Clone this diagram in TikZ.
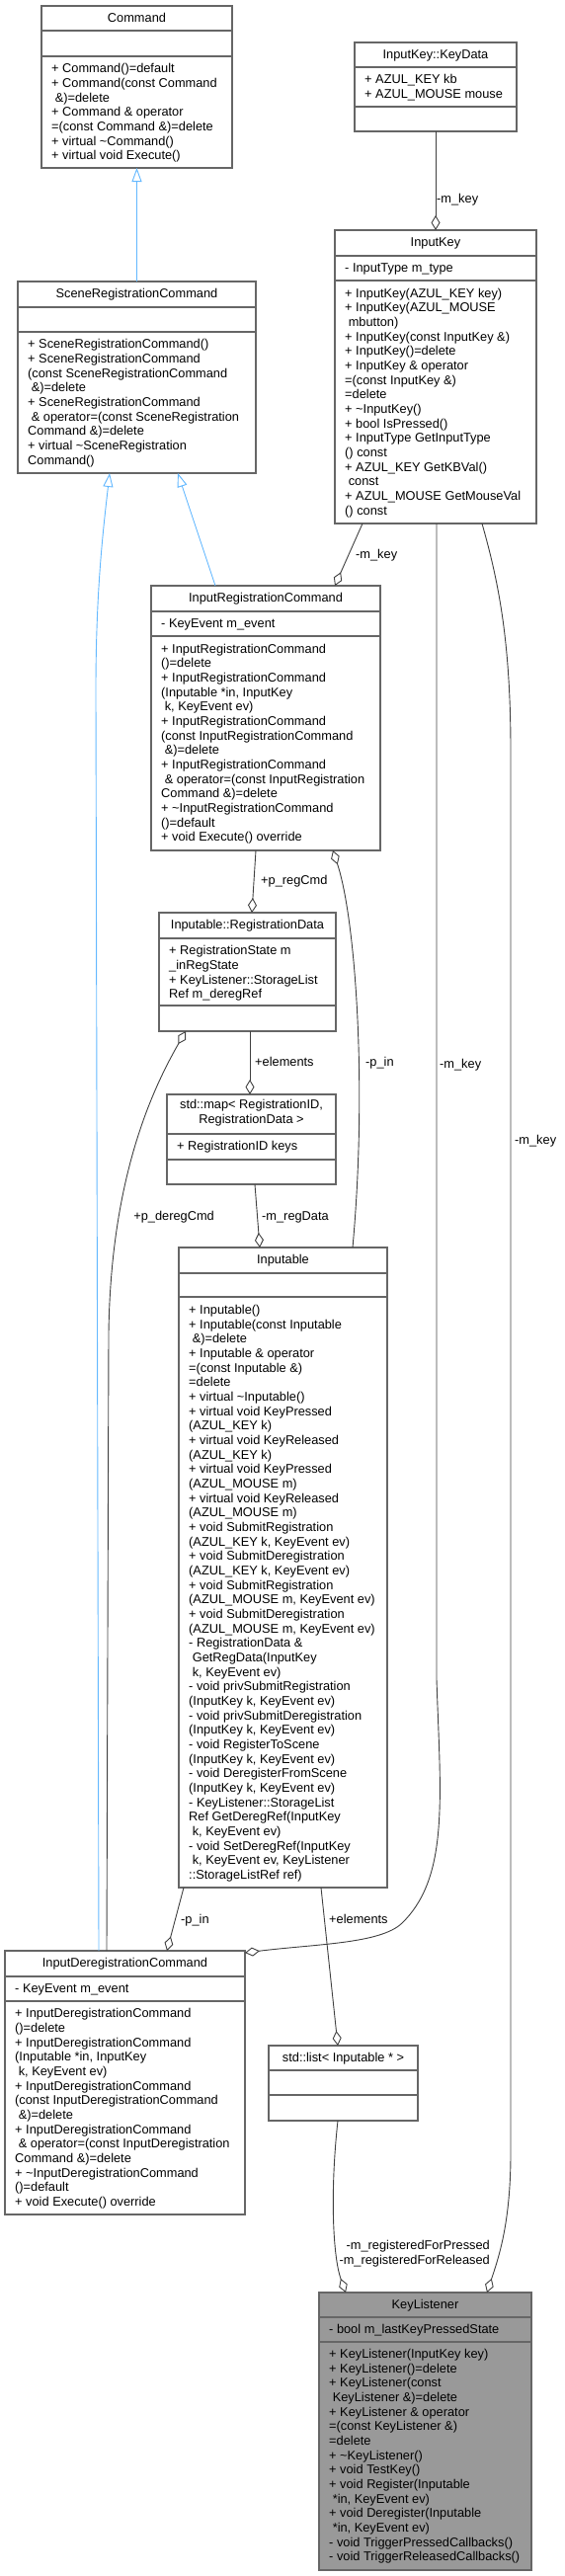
\documentclass[tikz,border=0pt]{standalone}
\usepackage{fontspec}
\setmainfont{Liberation Sans}
\usepackage{xcolor}
\usepackage{tikz}
\usetikzlibrary{arrows.meta}

\definecolor{boxline}{HTML}{666666}
\definecolor{edgegray}{HTML}{404040}
\definecolor{inhblue}{HTML}{63B8FF}
\definecolor{curfill}{HTML}{999999}

\newcommand{\lsp}{\hspace*{3.6pt}}

\begin{document}
\begin{tikzpicture}[x=1pt, y=-1pt,
        font=\fontsize{12.8}{14.67}\selectfont,
        classbox/.style={draw=boxline, line width=1.1pt, fill=white, inner sep=0pt, outer sep=0pt, anchor=north west},
        ctitle/.style={anchor=base, inner sep=0pt},
        ctext/.style={anchor=north west, inner sep=0pt, align=left},
        elabel/.style={anchor=base west, inner sep=0pt},
        divider/.style={draw=boxline, line width=1.1pt},
        agg/.style={draw=edgegray, line width=0.9pt, -{Diamond[open, fill=white, length=15pt, width=9pt]}},
        inherit/.style={draw=inhblue, line width=0.9pt, -{Triangle[open, fill=white, length=14pt, width=10pt]}}]
        \useasboundingbox (0,0) rectangle (571,2608);

        % Command
        \node[classbox, minimum width=193pt, minimum height=164pt] (cmd) at (42,6) {};
        \draw[divider] (cmd.west |- 0,31) -- (cmd.east |- 0,31);
        \draw[divider] (cmd.west |- 0,57) -- (cmd.east |- 0,57);
        \node[ctitle] (cmd-t) at ([yshift=-16.5pt]cmd.north) {Command};
        \node[ctext] (cmd-m) at (52,63.4) {\strut + Command()=default\\
            + Command(const Command\\
            \lsp\&)=delete\\
            + Command \& operator\\
            =(const Command \&)=delete\\
            + virtual \textasciitilde Command()\\
            + virtual void Execute()};

        % InputKey::KeyData
        \node[classbox, minimum width=164pt, minimum height=90pt] (kdata) at (359,43) {};
        \draw[divider] (kdata.west |- 0,68) -- (kdata.east |- 0,68);
        \draw[divider] (kdata.west |- 0,108) -- (kdata.east |- 0,108);
        \node[ctitle] (kdata-t) at ([yshift=-16.5pt]kdata.north) {InputKey::KeyData};
        \node[ctext] (kdata-a) at (369,74.4) {\strut + AZUL\_KEY kb\\
            + AZUL\_MOUSE mouse};

        % InputKey
        \node[classbox, minimum width=204pt, minimum height=297pt] (ikey) at (339,233) {};
        \draw[divider] (ikey.west |- 0,259) -- (ikey.east |- 0,259);
        \draw[divider] (ikey.west |- 0,284) -- (ikey.east |- 0,284);
        \node[ctitle] (ikey-t) at ([yshift=-16.5pt]ikey.north) {InputKey};
        \node[ctext] (ikey-a) at (349,265.4) {\strut - InputType m\_type};
        \node[ctext] (ikey-m) at (349,290.6) {\strut + InputKey(AZUL\_KEY key)\\
            + InputKey(AZUL\_MOUSE\\
            \lsp mbutton)\\
            + InputKey(const InputKey \&)\\
            + InputKey()=delete\\
            + InputKey \& operator\\
            =(const InputKey \&)\\
            =delete\\
            + \textasciitilde InputKey()\\
            + bool IsPressed()\\
            + InputType GetInputType\\
            () const\\
            + AZUL\_KEY GetKBVal()\\
            \lsp const\\
            + AZUL\_MOUSE GetMouseVal\\
            () const};

        % SceneRegistrationCommand
        \node[classbox, minimum width=241pt, minimum height=194pt] (scene) at (18,285) {};
        \draw[divider] (scene.west |- 0,311) -- (scene.east |- 0,311);
        \draw[divider] (scene.west |- 0,336) -- (scene.east |- 0,336);
        \node[ctitle] (scene-t) at ([yshift=-16.5pt]scene.north) {SceneRegistrationCommand};
        \node[ctext] (scene-m) at (28,342.2) {\strut + SceneRegistrationCommand()\\
            + SceneRegistrationCommand\\
            (const SceneRegistrationCommand\\
            \lsp\&)=delete\\
            + SceneRegistrationCommand\\
            \lsp\& operator=(const SceneRegistration\\
            Command \&)=delete\\
            + virtual \textasciitilde SceneRegistration\\
            Command()};

        % InputRegistrationCommand
        \node[classbox, minimum width=232pt, minimum height=268pt] (ireg) at (153,593) {};
        \draw[divider] (ireg.west |- 0,619) -- (ireg.east |- 0,619);
        \draw[divider] (ireg.west |- 0,644) -- (ireg.east |- 0,644);
        \node[ctitle] (ireg-t) at ([yshift=-16.5pt]ireg.north) {InputRegistrationCommand};
        \node[ctext] (ireg-a) at (163,625.4) {\strut - KeyEvent m\_event};
        \node[ctext] (ireg-m) at (163,650.6) {\strut + InputRegistrationCommand\\
            ()=delete\\
            + InputRegistrationCommand\\
            (Inputable *in, InputKey\\
            \lsp k, KeyEvent ev)\\
            + InputRegistrationCommand\\
            (const InputRegistrationCommand\\
            \lsp\&)=delete\\
            + InputRegistrationCommand\\
            \lsp\& operator=(const InputRegistration\\
            Command \&)=delete\\
            + \textasciitilde InputRegistrationCommand\\
            ()=default\\
            + void Execute() override};

        % Inputable::RegistrationData
        \node[classbox, minimum width=179pt, minimum height=120pt] (rdata) at (161,924) {};
        \draw[divider] (rdata.west |- 0,950) -- (rdata.east |- 0,950);
        \draw[divider] (rdata.west |- 0,1018) -- (rdata.east |- 0,1018);
        \node[ctitle] (rdata-t) at ([yshift=-16.5pt]rdata.north) {Inputable::RegistrationData};
        \node[ctext] (rdata-a) at (171,956.4) {\strut + RegistrationState m\\
            \_inRegState\\
            + KeyListener::StorageList\\
            Ref m\_deregRef};

        % std::map< RegistrationID, RegistrationData >
        \node[classbox, minimum width=171pt, minimum height=91pt] (rmap) at (169,1108) {};
        \draw[divider] (rmap.west |- 0,1148) -- (rmap.east |- 0,1148);
        \draw[divider] (rmap.west |- 0,1174) -- (rmap.east |- 0,1174);
        \node[anchor=north, inner sep=0pt, align=center] (rmap-t) at ([yshift=-4.4pt]rmap.north) {\strut std::map< RegistrationID,\\
            RegistrationData >};
        \node[ctext] (rmap-a) at (179,1154.4) {\strut + RegistrationID keys};

        % Inputable
        \node[classbox, minimum width=211pt, minimum height=648pt] (inp) at (181,1263) {};
        \draw[divider] (inp.west |- 0,1289) -- (inp.east |- 0,1289);
        \draw[divider] (inp.west |- 0,1313) -- (inp.east |- 0,1313);
        \node[ctitle] (inp-t) at ([yshift=-16.5pt]inp.north) {Inputable};
        \node[ctext] (inp-m) at (191,1320) {\strut + Inputable()\\
            + Inputable(const Inputable\\
            \lsp\&)=delete\\
            + Inputable \& operator\\
            =(const Inputable \&)\\
            =delete\\
            + virtual \textasciitilde Inputable()\\
            + virtual void KeyPressed\\
            (AZUL\_KEY k)\\
            + virtual void KeyReleased\\
            (AZUL\_KEY k)\\
            + virtual void KeyPressed\\
            (AZUL\_MOUSE m)\\
            + virtual void KeyReleased\\
            (AZUL\_MOUSE m)\\
            + void SubmitRegistration\\
            (AZUL\_KEY k, KeyEvent ev)\\
            + void SubmitDeregistration\\
            (AZUL\_KEY k, KeyEvent ev)\\
            + void SubmitRegistration\\
            (AZUL\_MOUSE m, KeyEvent ev)\\
            + void SubmitDeregistration\\
            (AZUL\_MOUSE m, KeyEvent ev)\\
            - RegistrationData \&\\
            \lsp GetRegData(InputKey\\
            \lsp k, KeyEvent ev)\\
            - void privSubmitRegistration\\
            (InputKey k, KeyEvent ev)\\
            - void privSubmitDeregistration\\
            (InputKey k, KeyEvent ev)\\
            - void RegisterToScene\\
            (InputKey k, KeyEvent ev)\\
            - void DeregisterFromScene\\
            (InputKey k, KeyEvent ev)\\
            - KeyListener::StorageList\\
            Ref GetDeregRef(InputKey\\
            \lsp k, KeyEvent ev)\\
            - void SetDeregRef(InputKey\\
            \lsp k, KeyEvent ev, KeyListener\\
            ::StorageListRef ref)};

        % InputDeregistrationCommand
        \node[classbox, minimum width=243pt, minimum height=267pt] (idereg) at (5,1975) {};
        \draw[divider] (idereg.west |- 0,2001) -- (idereg.east |- 0,2001);
        \draw[divider] (idereg.west |- 0,2026) -- (idereg.east |- 0,2026);
        \node[ctitle] (idereg-t) at ([yshift=-16.5pt]idereg.north) {InputDeregistrationCommand};
        \node[ctext] (idereg-a) at (15,2007.4) {\strut - KeyEvent m\_event};
        \node[ctext] (idereg-m) at (15,2032.2) {\strut + InputDeregistrationCommand\\
            ()=delete\\
            + InputDeregistrationCommand\\
            (Inputable *in, InputKey\\
            \lsp k, KeyEvent ev)\\
            + InputDeregistrationCommand\\
            (const InputDeregistrationCommand\\
            \lsp\&)=delete\\
            + InputDeregistrationCommand\\
            \lsp\& operator=(const InputDeregistration\\
            Command \&)=delete\\
            + \textasciitilde InputDeregistrationCommand\\
            ()=default\\
            + void Execute() override};

        % std::list< Inputable * >
        \node[classbox, minimum width=151pt, minimum height=76pt] (ilist) at (272,2071) {};
        \draw[divider] (ilist.west |- 0,2096) -- (ilist.east |- 0,2096);
        \draw[divider] (ilist.west |- 0,2121) -- (ilist.east |- 0,2121);
        \node[ctitle] (ilist-t) at ([yshift=-16.5pt]ilist.north) {std::list< Inputable * >};

        % KeyListener (this class)
        \node[classbox, fill=curfill, minimum width=215pt, minimum height=281pt] (klist) at (323,2321) {};
        \draw[divider] (klist.west |- 0,2346) -- (klist.east |- 0,2346);
        \draw[divider] (klist.west |- 0,2371) -- (klist.east |- 0,2371);
        \node[ctitle] (klist-t) at ([yshift=-16.5pt]klist.north) {KeyListener};
        \node[ctext] (klist-a) at (333,2352.2) {\strut - bool m\_lastKeyPressedState};
        \node[ctext] (klist-m) at (333,2377) {\strut + KeyListener(InputKey key)\\
            + KeyListener()=delete\\
            + KeyListener(const\\
            \lsp KeyListener \&)=delete\\
            + KeyListener \& operator\\
            =(const KeyListener \&)\\
            =delete\\
            + \textasciitilde KeyListener()\\
            + void TestKey()\\
            + void Register(Inputable\\
            \lsp *in, KeyEvent ev)\\
            + void Deregister(Inputable\\
            \lsp *in, KeyEvent ev)\\
            - void TriggerPressedCallbacks()\\
            - void TriggerReleasedCallbacks()};

        % Inheritance
        \draw[inherit] (scene.north) -- (cmd.south);
        \draw[inherit] ([xshift=65pt]ireg.north west) -- ([xshift=162pt]scene.south west);
        \draw[inherit] ([xshift=95pt]idereg.north west) -- (97,700) .. controls (97,600) and (104,540) .. ([xshift=93pt]scene.south west);

        % Members
        \draw[agg] (kdata.south) -- (ikey.north);
        \node[elabel] (kdata-l) at (442,205.3) {-m\_key};

        \draw[agg] ([xshift=28pt]ikey.south west) -- ([xshift=186pt]ireg.north west);
        \node[elabel] (ireg-l) at (360,565.3) {-m\_key};

        \draw[agg] ([xshift=106pt]ireg.south west) -- ([xshift=94pt]rdata.north west);
        \node[elabel] (rdata-l) at (264,895.6) {+p\_regCmd};

        \draw[agg] ([xshift=176pt]inp.north west) .. controls (372,1100) and (360,930) .. ([xshift=184pt]ireg.south west);
        \node[elabel] (inp-l) at (370,1079.6) {-p\_in};

        \draw[agg] ([xshift=92pt]rdata.south west) -- ([xshift=84pt]rmap.north west);
        \node[elabel] (rmap-l) at (258,1079.6) {+elements};

        \draw[agg] ([xshift=89pt]rmap.south west) -- ([xshift=82pt]inp.north west);
        \node[elabel] (inp-l2) at (265,1235.6) {-m\_regData};

        \draw[agg] ([xshift=103pt]idereg.north west) -- (110,1350) .. controls (112,1200) and (150,1110) .. ([xshift=27pt]rdata.south west);
        \node[anchor=base east, inner sep=0pt] (rdata-l2) at (217,1235.6) {+p\_deregCmd};

        \draw[agg] ([xshift=5pt]inp.south west) -- ([xshift=164pt]idereg.north west);
        \node[elabel] (idereg-l) at (183,1947.3) {-p\_in};

        \draw[agg] ([xshift=103pt]ikey.south west) -- (442,1700) .. controls (446,1820) and (455,1900) .. (407,1947) .. controls (385,1968) and (320,1968) .. ([yshift=-2pt]idereg.north east);
        \node[elabel] (idereg-l2) at (445,1081.2) {-m\_key};

        \draw[agg] ([xshift=144pt]inp.south west) -- ([xshift=70pt]ilist.north west);
        \node[elabel] (ilist-l) at (333,1947.3) {+elements};

        \draw[agg] ([xshift=149pt]ikey.south west) .. controls (505,590) and (517,650) .. (517,760) -- (517,2180) .. controls (517,2250) and (505,2285) .. ([xshift=170pt]klist.north west);
        \node[elabel] (klist-l) at (521,1158) {-m\_key};

        \draw[agg] ([xshift=70pt]ilist.south west) .. controls (334,2220) and (337,2285) .. ([xshift=27pt]klist.north west);
        \node[anchor=north east, inner sep=0pt, align=right] (klist-l2) at (496,2267) {\strut -m\_registeredForPressed\\
            -m\_registeredForReleased};
    \end{tikzpicture}
\end{document}
